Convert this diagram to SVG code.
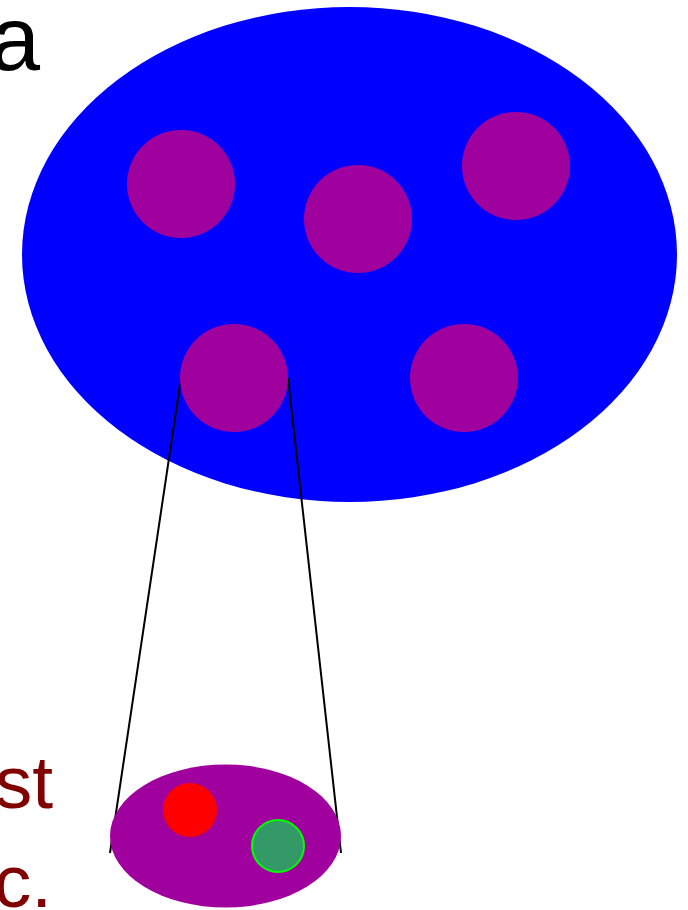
<svg xmlns="http://www.w3.org/2000/svg" width="688" height="910" viewBox="0 0 688 910">
<style>
.sub{fill:#a0009e}
.lbl{font-family:"Liberation Sans",Arial,sans-serif}
.conn{stroke:#000;stroke-width:2;fill:none}
</style>
<rect width="688" height="910" fill="#fff"/>
<g id="population">
<ellipse cx="349.5" cy="254.5" rx="327.5" ry="247.5" fill="#0000ff"/>
</g>
<g id="connectors">
<line class="conn" x1="181" y1="378" x2="110" y2="853"/>
<line class="conn" x1="288" y1="378" x2="341" y2="853"/>
</g>
<g id="sub1"><circle class="sub" cx="181" cy="184" r="54"/></g>
<g id="sub2"><circle class="sub" cx="358" cy="219" r="54"/></g>
<g id="sub3"><circle class="sub" cx="516" cy="166" r="54"/></g>
<g id="sub4"><circle class="sub" cx="234" cy="378" r="54"/></g>
<g id="sub5"><circle class="sub" cx="464" cy="378" r="54"/></g>
<g id="zoomed">
<ellipse cx="225.5" cy="836" rx="115.5" ry="71.5" fill="#a0009e"/>
<circle cx="190" cy="810" r="27" fill="#ff0000"/>
<circle cx="278" cy="846" r="26" fill="#339966" stroke="#00ff00" stroke-width="2"/>
</g>
<g id="labels">
<text class="lbl" x="40" y="70" font-size="90" text-anchor="end" fill="#000">a</text>
<text class="lbl" x="53" y="808" font-size="75" text-anchor="end" fill="#800000">st</text>
<text class="lbl" x="52" y="907" font-size="75" text-anchor="end" fill="#800000">c.</text>
</g>
</svg>
